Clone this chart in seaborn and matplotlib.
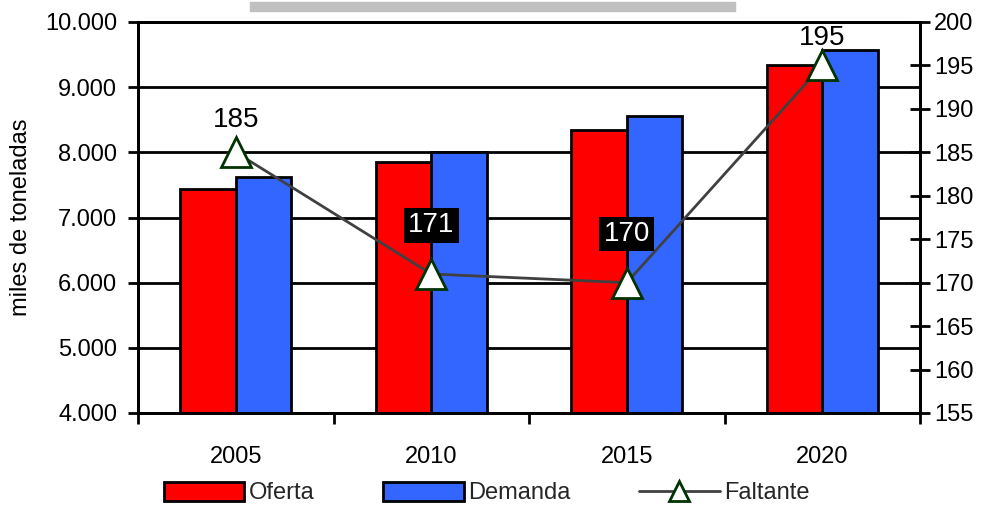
import numpy as np
import pandas as pd
import matplotlib
matplotlib.use('Agg')
import matplotlib.pyplot as plt
import seaborn as sns
from matplotlib import font_manager
from matplotlib.ticker import FuncFormatter, FixedLocator
from matplotlib.patches import Rectangle, Patch
from matplotlib.lines import Line2D

# datos
anios = ['2005', '2010', '2015', '2020']
oferta = [7440, 7850, 8340, 9340]
demanda = [7620, 8000, 8550, 9570]
faltante = [185, 171, 170, 195]

sns.set_theme(style='white')
nombres = {f.name for f in font_manager.fontManager.ttflist}
fuente = 'Liberation Sans Narrow' if 'Liberation Sans Narrow' in nombres else 'Liberation Sans'
plt.rcParams['font.family'] = [fuente, 'DejaVu Sans']

df = pd.DataFrame({'anio': anios * 2,
                   'serie': ['Oferta'] * 4 + ['Demanda'] * 4,
                   'valor': oferta + demanda})

fig = plt.figure(figsize=(9.9, 5.08), dpi=100)
ax = fig.add_axes([138 / 990, 95 / 508, 782 / 990, 391 / 508])

sns.barplot(data=df, x='anio', y='valor', hue='serie',
            palette=['#ff0000', '#3366ff'], saturation=1, edgecolor='black',
            linewidth=2, width=0.57, ax=ax)
if ax.get_legend() is not None:
    ax.get_legend().remove()
ax.set_ylim(4000, 10000)
ax.set_xlim(-0.5, 3.5)
ax.set_xlabel('')
ax.set_ylabel('miles de toneladas', fontsize=17, color='black')
ax.yaxis.set_label_coords(-0.135, 0.5)
ax.yaxis.set_major_formatter(FuncFormatter(lambda v, p: f'{int(v):,}'.replace(',', '.')))
ax.grid(axis='y', color='black', linewidth=2)
ax.set_axisbelow(True)
ax.tick_params(axis='y', left=True, direction='out', length=7, width=2,
               pad=8, labelsize=17, colors='black')
ax.tick_params(axis='x', which='major', bottom=True, length=0, pad=24,
               labelsize=17, colors='black')
ax.xaxis.set_minor_locator(FixedLocator([-0.5, 0.5, 1.5, 2.5, 3.5]))
ax.tick_params(axis='x', which='minor', bottom=True, direction='out',
               length=8, width=2, color='black')
for s in ax.spines.values():
    s.set_color('black')
    s.set_linewidth(2)

ax2 = ax.twinx()
sns.lineplot(x=anios, y=faltante, ax=ax2, sort=False, color='#404040',
             linewidth=2, marker='^', markersize=22, markerfacecolor='white',
             markeredgecolor='#003300', markeredgewidth=2)
ax2.set_ylim(155, 200)
ax2.set_yticks(range(155, 201, 5))
ax2.set_ylabel('')
ax2.tick_params(axis='y', right=True, direction='inout', length=14, width=2,
                pad=3, labelsize=17, colors='black')
for s in ax2.spines.values():
    s.set_color('black')
    s.set_linewidth(2)
ax2.set_xlim(-0.5, 3.5)

desplaz = [23, 35, 35, 20]
cajas = [False, True, True, False]
for a, v, d, c in zip(anios, faltante, desplaz, cajas):
    if c:
        ax2.annotate(str(v), (a, v), xytext=(0, d), textcoords='offset points',
                     ha='center', va='center', fontsize=20, color='white',
                     bbox=dict(boxstyle='square,pad=0.15', fc='black', ec='none'))
    else:
        ax2.annotate(str(v), (a, v), xytext=(0, d), textcoords='offset points',
                     ha='center', va='center', fontsize=20, color='black')

# barra gris de titulo
fig.patches.append(Rectangle((250 / 990, 1 - 11 / 508), 485 / 990, 9 / 508,
                             transform=fig.transFigure, color='#c0c0c0'))

handles = [Patch(facecolor='#ff0000', edgecolor='black', linewidth=2),
           Patch(facecolor='#3366ff', edgecolor='black', linewidth=2),
           Line2D([], [], color='#404040', linewidth=2, marker='^', markersize=14,
                  markerfacecolor='white', markeredgecolor='#003300', markeredgewidth=2)]
fig.legend(handles, ['Oferta', 'Demanda', 'Faltante'], loc='center',
           bbox_to_anchor=(487 / 990, 1 - 493 / 508), ncol=3, frameon=False,
           handlelength=3.4, handleheight=0.9, handletextpad=0.2,
           columnspacing=2.9, fontsize=17)

fig.savefig('out.png', dpi=100)
